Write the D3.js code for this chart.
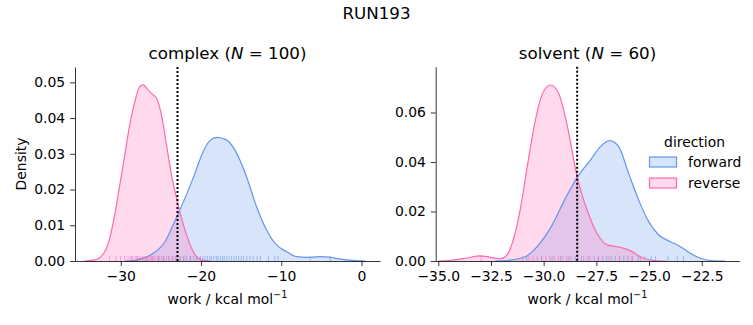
<!DOCTYPE html>
<html><head><meta charset="utf-8">
<script src="https://cdn.jsdelivr.net/npm/d3@7"></script>
<style>body{margin:0;background:#fff}svg{display:block}text{font-family:"DejaVu Sans",sans-serif}</style>
</head><body>
<svg id="c" width="753" height="325"></svg>
<script>
// ---------- data ----------
const suptitle = "RUN193";
const directions = ["forward", "reverse"];
const colors = {forward: "#6495ed", reverse: "#ff69b4"};

// complex panel: KDE curves
const complexForwardX = [-29.5, -28.2, -27.2, -26.2, -24.5, -23.3, -22.0, -20.98, -19.74, -18.9, -18.0, -16.82, -15.57, -14.33, -13.08, -11.83, -10.59, -9.34, -8.1, -6.85, -5.19, -3.53, -1.86, -0.2, 0.5];
const complexForwardY = [0, 0.0002, 0.0008, 0.0018, 0.0054, 0.011, 0.0176, 0.0232, 0.0306, 0.0337, 0.0346, 0.0339, 0.0302, 0.0236, 0.0152, 0.0087, 0.0045, 0.0026, 0.0012, 0.001, 0.0012, 0.0009, 0.0003, 0.00005, 0];
const complexReverseX = [-34.5, -33.2, -32.0, -31.37, -30.75, -30.12, -29.5, -28.88, -28.25, -27.63, -27.2, -26.6, -25.97, -25.55, -24.93, -24.3, -23.68, -23.05, -22.43, -21.8, -21.18, -20.36, -19.5, -18.8];
const complexReverseY = [0, 0.0003, 0.0026, 0.0064, 0.0129, 0.0213, 0.0297, 0.0381, 0.0446, 0.0488, 0.0493, 0.0479, 0.0465, 0.0456, 0.0409, 0.0325, 0.0241, 0.0176, 0.012, 0.0073, 0.0036, 0.0008, 0.0001, 0];
const complexForwardRug = [-28.6, -27.9, -26.8, -26.1, -25.3, -24.7, -24.0, -23.5, -23.1, -22.6, -22.2, -21.8, -21.3, -20.9, -20.5, -20.1, -19.8, -19.5, -19.2, -18.9, -18.7, -18.4, -18.1, -17.9, -17.6, -17.3, -17.1, -16.8, -16.5, -16.2, -15.9, -15.6, -15.3, -15.0, -14.7, -14.3, -13.9, -13.5, -13.0, -12.6, -11.6, -10.8, -10.4, -6.4, -3.9];
const complexReverseRug = [-31.4, -30.6, -30.0, -29.5, -29.1, -28.8, -28.5, -28.2, -28.0, -27.7, -27.5, -27.3, -27.1, -26.9, -26.7, -26.5, -26.3, -26.1, -25.9, -25.7, -25.4, -25.2, -24.9, -24.6, -24.3, -24.0, -23.6, -23.2, -22.7, -22.1, -21.4, -20.6, -20.1];
const complexMarker = -22.93;

// solvent panel
const solventForwardX = [-32.3, -31.66, -30.87, -30.24, -29.6, -28.97, -28.34, -27.78, -27.31, -26.87, -26.44, -25.97, -25.49, -25.02, -24.54, -23.99, -23.51, -23.04, -22.56, -21.93, -21.4];
const solventForwardY = [0, 0.0003, 0.0017, 0.0065, 0.0145, 0.0253, 0.0347, 0.0408, 0.0462, 0.0486, 0.0462, 0.0354, 0.0246, 0.0159, 0.0105, 0.0078, 0.0058, 0.0031, 0.0011, 0.0001, 0];
const solventReverseX = [-35.0, -34.5, -33.72, -33.0, -32.53, -32.06, -31.74, -31.42, -31.1, -30.79, -30.47, -30.08, -29.68, -29.29, -28.89, -28.41, -27.94, -27.47, -26.99, -26.36, -25.89, -25.41, -24.94, -24.6, -24.2];
const solventReverseY = [0, 0.0002, 0.0011, 0.0021, 0.0015, 0.0009, 0.0024, 0.0092, 0.0213, 0.0375, 0.0536, 0.0671, 0.0711, 0.0678, 0.055, 0.034, 0.0206, 0.0112, 0.0065, 0.0055, 0.0042, 0.0017, 0.0004, 0.0001, 0];
const solventForwardRug = [-30.8, -30.1, -29.6, -29.2, -28.8, -28.5, -28.2, -27.9, -27.6, -27.4, -27.2, -27.0, -26.8, -26.6, -26.4, -26.2, -26.0, -25.8, -25.5, -25.2, -24.9, -24.7, -24.1, -23.66, -23.37];
const solventReverseRug = [-32.96, -31.0, -30.7, -30.5, -30.3, -30.1, -29.9, -29.7, -29.5, -29.3, -29.1, -28.9, -28.7, -28.4, -28.1, -27.8, -27.4, -26.9, -26.4, -25.8, -25.4];
const solventMarker = -28.41;

const complexXTicks = [-30, -20, -10, 0];
const complexYTicks = [0, 0.01, 0.02, 0.03, 0.04, 0.05];
const solventXTicks = [-35, -32.5, -30, -27.5, -25, -22.5];
const solventYTicks = [0, 0.02, 0.04, 0.06];

// ---------- drawing ----------
const svg = d3.select("#c");
const FS = 13.9;
const minus = s => s.replace(/-/g, "\u2212");

svg.append("text").attr("x", 376.5).attr("y", 19).attr("text-anchor", "middle")
  .attr("font-size", 16.7).text(suptitle);

function panel(opt) {
  const x = d3.scaleLinear().domain(opt.xDomain).range([opt.left, opt.right]);
  const y = d3.scaleLinear().domain(opt.yDomain).range([261, opt.top]);
  const g = svg.append("g");
  const series = [
    {key: "forward", xs: opt.fx, ys: opt.fy, rug: opt.frug},
    {key: "reverse", xs: opt.rx, ys: opt.ry, rug: opt.rrug}
  ];
  const area = d3.area().x(d => x(d[0])).y0(y(0)).y1(d => y(d[1])).curve(d3.curveMonotoneX);
  const line = d3.line().x(d => x(d[0])).y(d => y(d[1])).curve(d3.curveMonotoneX);
  series.forEach(s => {
    const pts = s.xs.map((v, i) => [v, s.ys[i]]);
    g.append("path").attr("d", area(pts)).attr("fill", colors[s.key]).attr("fill-opacity", 0.25);
  });
  series.forEach(s => {
    const pts = s.xs.map((v, i) => [v, s.ys[i]]);
    g.append("path").attr("d", line(pts)).attr("fill", "none").attr("stroke", colors[s.key]).attr("stroke-width", 1.2);
  });
  series.forEach(s => {
    g.selectAll(null).data(s.rug).enter().append("line")
      .attr("x1", d => x(d)).attr("x2", d => x(d))
      .attr("y1", 261).attr("y2", 256)
      .attr("stroke", colors[s.key]).attr("stroke-opacity", 0.55).attr("stroke-width", 1);
  });
  g.append("line").attr("x1", x(opt.marker)).attr("x2", x(opt.marker))
    .attr("y1", opt.top).attr("y2", 261)
    .attr("stroke", "#000").attr("stroke-width", 2).attr("stroke-dasharray", "2,2");

  const xa = g.append("g").attr("transform", "translate(0,261)")
    .call(d3.axisBottom(x).tickValues(opt.xTicks).tickFormat(d => minus(d3.format(opt.xFmt)(d)))
      .tickSize(4.9).tickPadding(4.9).tickSizeOuter(0));
  const ya = g.append("g").attr("transform", `translate(${opt.left},0)`)
    .call(d3.axisLeft(y).tickValues(opt.yTicks).tickFormat(d3.format(".2f"))
      .tickSize(4.9).tickPadding(4.9).tickSizeOuter(0));
  [xa, ya].forEach(a => {
    a.selectAll("text").attr("font-size", FS).attr("font-family", "DejaVu Sans").attr("fill", "#000");
    a.selectAll("line").attr("stroke", "#000").attr("stroke-width", 0.8);
    a.select(".domain").attr("stroke", "#000").attr("stroke-width", 0.8);
  });

  const cx = (opt.left + opt.right) / 2;
  const t = svg.append("text").attr("x", cx).attr("y", 59).attr("text-anchor", "middle").attr("font-size", 16.7);
  t.append("tspan").text(opt.name + " (");
  t.append("tspan").attr("font-style", "italic").text("N");
  t.append("tspan").text(" = " + opt.n + ")");

  const xl = svg.append("text").attr("x", cx).attr("y", 304).attr("text-anchor", "middle").attr("font-size", FS);
  xl.append("tspan").text("work / kcal mol");
  xl.append("tspan").attr("font-size", 9.7).attr("dy", -6).text("\u22121");
}

panel({name: "complex", n: 100, left: 75, right: 380, top: 67,
  xDomain: [-35.7, 2.3], yDomain: [0, 0.0543],
  fx: complexForwardX, fy: complexForwardY, rx: complexReverseX, ry: complexReverseY,
  frug: complexForwardRug, rrug: complexReverseRug, marker: complexMarker,
  xTicks: complexXTicks, yTicks: complexYTicks, xFmt: "d"});
panel({name: "solvent", n: 60, left: 435.7, right: 739.3, top: 66.7,
  xDomain: [-35.12, -20.72], yDomain: [0, 0.0785],
  fx: solventForwardX, fy: solventForwardY, rx: solventReverseX, ry: solventReverseY,
  frug: solventForwardRug, rrug: solventReverseRug, marker: solventMarker,
  xTicks: solventXTicks, yTicks: solventYTicks, xFmt: ".1f"});

svg.append("text").attr("transform", "translate(26,164) rotate(-90)").attr("text-anchor", "middle")
  .attr("font-size", FS).text("Density");

// legend
const lg = svg.append("g");
lg.append("text").attr("x", 694.5).attr("y", 147).attr("text-anchor", "middle").attr("font-size", FS).text("direction");
directions.forEach((d, i) => {
  const yy = 157 + i * 21;
  lg.append("rect").attr("x", 649.5).attr("y", yy).attr("width", 27).attr("height", 10)
    .attr("fill", colors[d]).attr("fill-opacity", 0.25).attr("stroke", colors[d]).attr("stroke-width", 1.2);
  lg.append("text").attr("x", 688).attr("y", yy + 9.5).attr("font-size", FS).text(d);
});
</script>
</body></html>
